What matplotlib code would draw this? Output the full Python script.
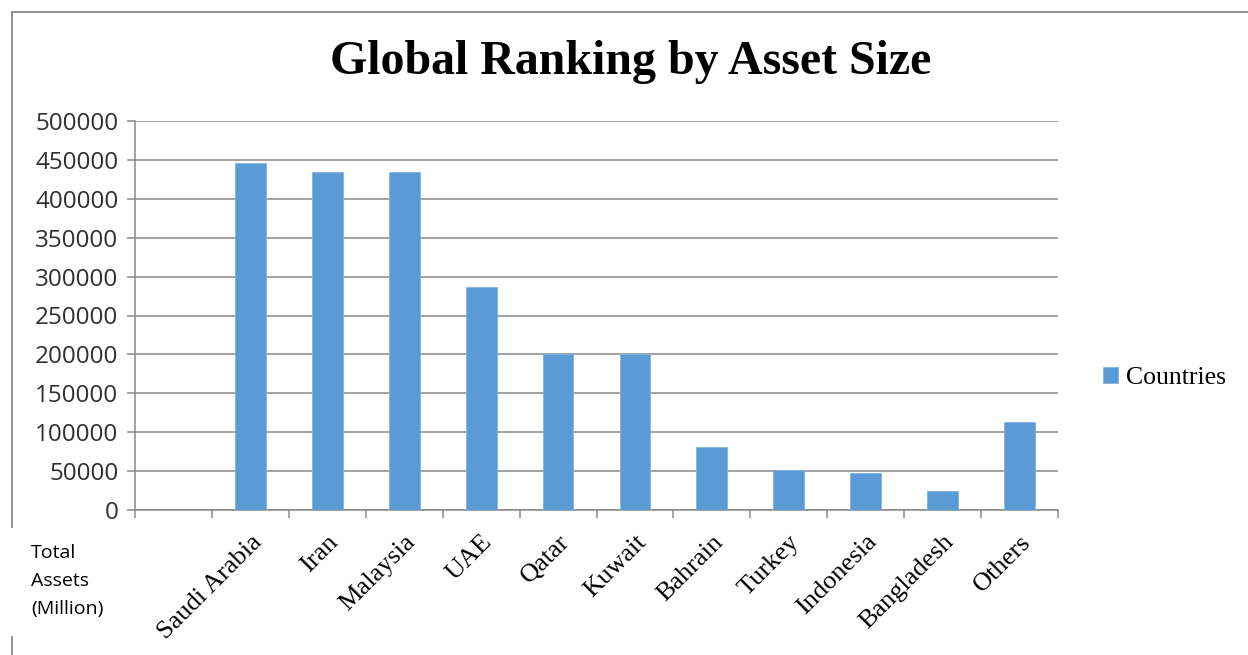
import matplotlib.pyplot as plt
from matplotlib.lines import Line2D
import numpy as np

# values (total assets, million)
countries = ['Saudi Arabia', 'Iran', 'Malaysia', 'UAE', 'Qatar', 'Kuwait',
             'Bahrain', 'Turkey', 'Indonesia', 'Bangladesh', 'Others']
assets = [446000, 434000, 434000, 287000, 200000, 200000,
          81000, 52000, 47000, 25000, 113000]
yticks = [0, 50000, 100000, 150000, 200000, 250000, 300000, 350000, 400000, 450000, 500000]

BLUE = '#5b9bd5'
GRID = '#898989'

fig = plt.figure(figsize=(12.48, 6.55), dpi=100)
ax = fig.add_axes([135 / 1248, 1 - 510 / 655, 923 / 1248, 389 / 655])

# first category slot is left empty in the original
pos = np.arange(len(countries)) + 1
ax.bar(pos, assets, width=0.4, color=BLUE, edgecolor='#7fb3e3', linewidth=0.6,
       label='Countries', zorder=3)

ax.set_xlim(-0.5, len(countries) + 0.5)
ax.set_ylim(0, 500000)
ax.set_yticks(yticks)
ax.set_yticklabels([str(v) for v in yticks], fontname='Open Sans', fontsize=17.5, color='#303030')
ax.grid(axis='y', color=GRID, linewidth=1.1, zorder=0)

ax.set_xticks(pos)
ax.set_xticklabels(countries, rotation=45, ha='right', va='top', rotation_mode='anchor',
                   fontname='Liberation Serif', fontsize=19)
ax.set_xticks(np.arange(-0.5, len(countries) + 1, 1), minor=True)
ax.tick_params(axis='x', which='major', length=0, pad=15)
ax.tick_params(axis='x', which='minor', length=6, color=GRID, width=1.1)
ax.tick_params(axis='y', length=6, color=GRID, width=1.1, pad=6)

for s in ['top', 'right']:
    ax.spines[s].set_visible(False)
ax.spines['left'].set_color(GRID)
ax.spines['bottom'].set_color(GRID)
ax.spines['left'].set_linewidth(1.1)
ax.spines['bottom'].set_linewidth(1.1)

fig.text(631 / 1248, 1 - 62 / 655, 'Global Ranking by Asset Size', ha='center', va='center',
         fontname='Liberation Serif', fontweight='bold', fontsize=34.5)

fig.legend(loc='center left', bbox_to_anchor=(1090 / 1248, 1 - 378 / 655),
           prop={'family': 'Liberation Serif', 'size': 18.5}, frameon=False,
           handlelength=0.6, handleheight=0.6, handletextpad=0.3, borderpad=0)

fig.text(31 / 1248, 1 - 553 / 655, 'Total', ha='left', va='center', fontname='Open Sans', fontsize=14)
fig.text(31 / 1248, 1 - 581 / 655, 'Assets', ha='left', va='center', fontname='Open Sans', fontsize=14)
fig.text(31 / 1248, 1 - 609 / 655, '(Million)', ha='left', va='center', fontname='Open Sans', fontsize=14)

# outer frame pieces visible in the screenshot
fx = 12 / 1248
fig.add_artist(Line2D([fx, 1], [1 - 12 / 655] * 2, color='#888888', lw=1.3))
fig.add_artist(Line2D([fx, fx], [1 - 12 / 655, 1 - 527 / 655], color='#888888', lw=1.3))
fig.add_artist(Line2D([fx, fx], [1 - 637 / 655, 0], color='#888888', lw=1.3))

fig.savefig('out.png', dpi=100)
